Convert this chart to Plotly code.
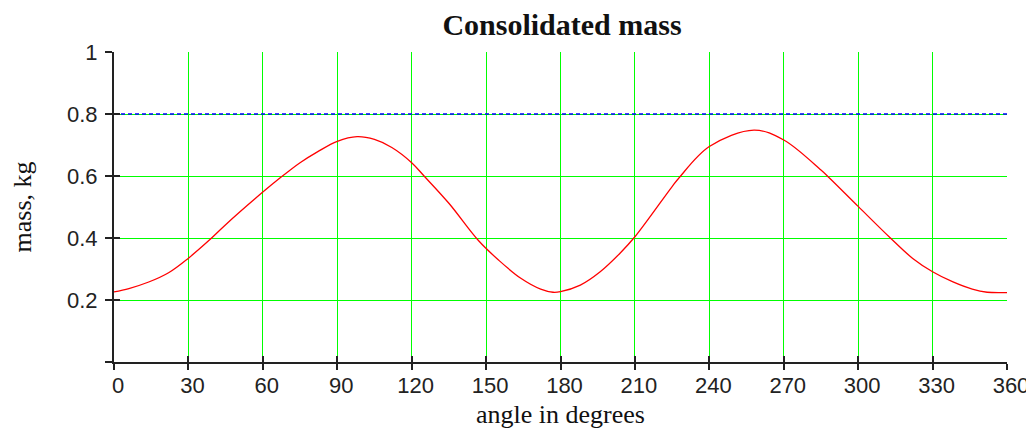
import plotly.graph_objects as go

angle = [0, 6, 14, 22, 30, 38, 45, 60, 67, 75, 82, 90, 98, 105, 112, 120, 125,
         135, 147, 155, 164, 172, 177, 180, 188, 196, 204, 210, 225, 228, 240,
         258, 270, 285, 288, 300, 313, 322, 330, 338, 346, 352, 360]
mass = [0.226, 0.237, 0.258, 0.288, 0.335, 0.390, 0.443, 0.548, 0.594, 0.643,
        0.678, 0.712, 0.727, 0.718, 0.692, 0.643, 0.600, 0.512, 0.391, 0.329,
        0.270, 0.235, 0.225, 0.227, 0.248, 0.291, 0.351, 0.404, 0.566, 0.596,
        0.695, 0.748, 0.716, 0.619, 0.597, 0.502, 0.400, 0.334, 0.291, 0.259,
        0.235, 0.225, 0.224]

limit_angle = [0, 360]
limit_mass = [0.8, 0.8]

x_ticks = [0, 30, 60, 90, 120, 150, 180, 210, 240, 270, 300, 330, 360]
y_ticks = [0, 0.2, 0.4, 0.6, 0.8, 1]
y_labels = ["", "0.2", "0.4", "0.6", "0.8", "1"]

GREEN = "#00FF00"
AXIS = "#222222"

W, H = 1026, 431

fig = go.Figure()
fig.add_trace(go.Scatter(x=limit_angle, y=limit_mass, mode="lines",
                         line=dict(color="#0000FF", width=1.6, dash="4px,3px"),
                         hoverinfo="skip", showlegend=False))
fig.add_trace(go.Scatter(x=angle, y=mass, mode="lines",
                         line=dict(color="#FF0000", width=1.3, shape="spline", smoothing=1.0),
                         showlegend=False))
# overlay axes: inner half of crossing tick marks
fig.add_trace(go.Scatter(x=limit_angle, y=limit_mass, xaxis="x2", yaxis="y2",
                         mode="lines", line=dict(width=0), opacity=0,
                         hoverinfo="skip", showlegend=False))

tick_font = dict(family="Liberation Sans, Arial, sans-serif", size=22, color="#222222")
title_font = dict(family="Liberation Serif, Times New Roman, serif", size=26, color="#111111")

fig.update_layout(
    width=W, height=H,
    margin=dict(l=106, r=27, t=44, b=77, autoexpand=False),
    paper_bgcolor="white", plot_bgcolor="white",
    title=dict(text="<b>Consolidated mass</b>", x=554 / W, xanchor="center",
               y=1 - 16 / H, yanchor="middle", yref="container",
               font=dict(family="Liberation Serif, Times New Roman, serif", size=30, color="#111111")),
    xaxis=dict(range=[0, 360], tickvals=x_ticks, ticktext=[str(v) for v in x_ticks],
               showgrid=True, gridcolor=GREEN, gridwidth=1, zeroline=False,
               showline=True, linecolor=AXIS, linewidth=2, automargin=False,
               ticks="outside", ticklen=6, tickwidth=1.5, tickcolor=AXIS,
               tickfont=tick_font, ticklabelshift=4, ticklabelstandoff=-3,
               title=dict(text="angle in degrees", font=title_font, standoff=7)),
    yaxis=dict(range=[0, 1], tickvals=y_ticks, ticktext=y_labels,
               showgrid=True, gridcolor=GREEN, gridwidth=1, zeroline=False,
               showline=True, linecolor=AXIS, linewidth=2, automargin=False,
               ticks="outside", ticklen=7, tickwidth=1.5, tickcolor=AXIS,
               tickfont=tick_font, ticklabelstandoff=3,
               title=dict(text="mass, kg", font=title_font, standoff=35)),
    xaxis2=dict(range=[0, 360], overlaying="x", side="bottom", anchor="y2",
                tickvals=x_ticks, showticklabels=False, showgrid=False, zeroline=False,
                showline=False, ticks="inside", ticklen=6, tickwidth=1.5, tickcolor=AXIS),
    yaxis2=dict(range=[0, 1], overlaying="y", side="left", anchor="x2",
                tickvals=y_ticks, showticklabels=False, showgrid=False, zeroline=False,
                showline=False, ticks="inside", ticklen=6, tickwidth=1.5, tickcolor=AXIS),
)

fig.write_html("out.html")
